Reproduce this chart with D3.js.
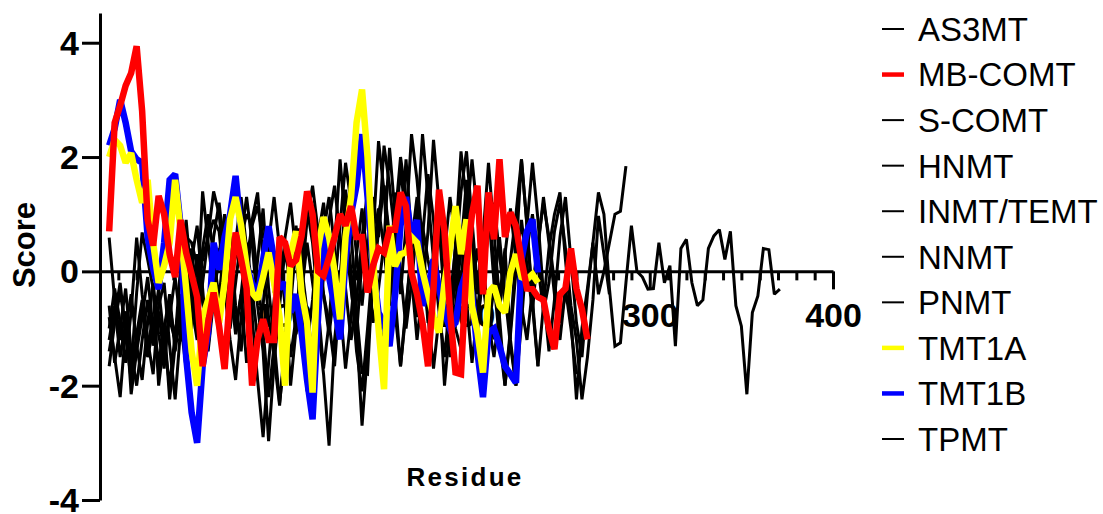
<!DOCTYPE html>
<html>
<head>
<meta charset="utf-8">
<script src="https://cdn.jsdelivr.net/npm/d3@7"></script>
<style>
  html, body { margin: 0; padding: 0; background: #fff; }
  svg { display: block; }
</style>
</head>
<body>
<svg id="chart" width="1103" height="514"></svg>
<script>
// ---------------- DATA ----------------
const seriesNames = ["AS3MT","MB-COMT","S-COMT","HNMT","INMT/TEMT","NNMT","PNMT","TMT1A","TMT1B","TPMT"];
const firstResidue = 5;   // residue of the first value in every series
const residueStep = 3;    // residues between consecutive values

const AS3MT = [
  -1.2,-0.6,-1.5,-0.9,-1.8,-1.1,-0.5,-1.3,-0.8,-1.6,
  -1.0,-0.4,-1.4,-0.7,0.2,-0.6,-1.2,0.4,1.0,0.3,
  -0.5,0.6,-0.2,-1.1,-0.4,-1.6,-0.8,0.2,1.1,-0.3,
  -1.2,-2.3,-1.4,-0.6,0.5,-0.2,0.9,1.5,0.7,-0.4,
  -1.1,-0.3,0.8,1.9,1.2,0.3,-0.6,0.4,1.3,0.6,
  2.2,1.5,0.6,-0.4,0.8,2.4,1.6,0.5,-0.5,0.3,
  1.2,0.4,-0.8,0.2,1.4,2.1,0.9,-0.3,0.6,1.9,
  0.7,-0.5,0.4,-1.2,-2.0,-0.6,0.8,1.9,0.9,-0.4,
  -1.4,-0.5,0.6,1.3,0.2,-0.9,-1.5,-0.4,0.5,1.38,
  1.0,-0.3,-1.31,-1.25,-0.2,0.8,0.0,-0.1,-0.31,-0.3,
  0.5,-0.2,0.1,-1.31,0.4,0.56,-0.2,-0.6,-0.5,0.4,
  0.62,0.73,0.21,0.7,-0.6,-0.96,-2.15,-0.72,-0.43,0.4,
  0.38,-0.4,-0.31
];
const MB_COMT = [
  0.70,2.60,2.90,3.25,3.47,3.94,2.80,0.90,0.45,1.32,
  1.00,0.30,-0.10,0.90,0.33,-0.05,-0.45,-1.66,-0.90,-0.37,
  -0.96,-1.71,-0.37,0.68,0.21,-0.30,-2.00,-1.19,-0.84,-1.20,
  -1.20,0.60,0.50,0.10,0.20,0.62,1.40,1.00,0.00,-0.08,
  0.25,0.60,1.00,0.80,1.14,0.60,0.60,-0.37,0.10,0.40,
  0.33,0.73,0.73,1.38,1.14,-0.02,-0.40,-0.90,-1.66,-0.30,
  1.43,0.70,-0.70,-1.77,-1.80,0.09,1.00,1.50,-0.40,1.38,
  0.56,1.96,0.60,1.03,0.79,0.20,-0.30,-0.31,-0.45,-0.50,
  -1.00,-1.36,-0.40,-0.30,0.40,-0.30,-0.66,-1.19
];
const S_COMT = [
  -1.66,-0.90,-0.37,-0.96,-1.71,-0.37,0.68,0.21,-0.30,-2.00,
  -1.19,-0.84,-1.20,-1.20,0.60,0.50,0.10,0.20,0.62,1.40,
  1.00,0.00,-0.08,0.25,0.60,1.00,0.80,1.14,0.60,0.60,
  -0.37,0.10,0.40,0.33,0.73,0.73,1.38,1.14,-0.02,-0.40,
  -0.90,-1.66,-0.30,1.43,0.70,-0.70,-1.77,-1.80,0.09,1.00,
  1.50,-0.40,1.38,0.56,1.96,0.60,1.03,0.79,0.20,-0.30,
  -0.31,-0.45,-0.50,-1.00,-1.36,-0.40,-0.30,0.40,-0.30,-0.66,
  -1.19
];
const HNMT = [
  -0.8,-1.5,-2.2,-1.0,-0.4,-1.3,-1.9,-0.9,-0.2,-1.1,
  -1.7,-0.6,-1.2,0.1,0.9,-0.2,-0.9,-1.8,-0.6,0.6,
  1.2,0.3,-0.7,0.5,1.3,0.4,-0.8,-1.9,-2.9,-1.6,
  -0.5,0.3,-0.6,-1.5,-0.8,0.2,1.1,0.5,-0.6,-1.7,
  -0.9,0.4,1.96,0.8,-0.2,-1.4,-2.1,-1.0,0.2,1.1,
  0.4,-0.6,0.9,2.0,1.3,0.2,-0.8,0.6,1.7,0.9,
  -0.3,-2.0,-0.9,0.5,2.1,1.2,-0.1,-1.1,0.3,1.0,
  0.2,-0.8,-2.0,-1.0,0.3,1.96,0.8,-0.5,-1.66,-0.6,
  0.4,1.0,1.38,0.2,-0.8,-2.24,-1.0,-0.3,0.5,-0.4,
  0.0,0.5,1.0,1.05,1.84
];
const INMT_TEMT = [
  -1.0,-0.3,-0.9,-1.6,-0.7,0.59,-0.4,-1.2,-1.8,-0.6,
  -0.2,-1.3,-2.24,-1.0,-0.3,0.4,-0.5,1.4,0.5,-0.3,
  -1.1,-0.2,0.7,-0.6,-1.4,-0.3,0.9,1.38,0.2,-0.8,
  -1.5,-2.35,-1.2,-0.1,0.8,-0.4,-1.3,-0.5,0.6,1.2,
  0.3,-0.8,-0.1,1.0,0.0,-1.0,-2.7,-1.4,-0.2,0.7,
  1.5,0.6,-0.4,-1.66,-0.7,0.5,1.3,0.3,-0.9,-0.2,
  0.8,-0.5,-1.5,-0.6,0.4,1.6,0.6,-0.4,0.2,-0.9,
  -1.5,-0.7,0.3,1.1,0.2,-0.6,-1.2,-0.3,0.5,1.2,
  0.6,-0.2,-0.9,-0.4,0.3
];
const NNMT = [
  -1.4,-0.8,-0.2,-1.1,-1.9,-1.3,-0.6,-1.5,-1.0,-0.3,
  -1.2,-2.0,-1.1,-0.4,-0.9,0.2,0.8,-0.3,-1.4,-0.5,
  0.3,1.0,0.1,-1.0,-0.4,0.5,-0.3,-1.2,-0.6,0.5,
  1.3,0.4,-0.5,-2.0,-1.0,0.1,-0.7,-1.6,-0.9,-1.8,
  -3.05,-1.2,-0.3,0.6,-0.3,-1.1,0.2,1.3,0.4,-0.7,
  -1.5,-0.5,0.6,1.8,0.9,-0.1,-1.2,-0.3,0.7,2.3,
  1.2,0.1,-0.9,-0.2,0.6,-0.5,-1.6,-0.7,0.3,1.1,
  -0.2,-1.2,-2.0,-1.1,0.0,0.9,0.1,-0.7,0.4,1.3,
  0.5,-0.4,-1.2,-0.3,-1.0,-1.8
];
const PNMT = [
  0.59,-0.5,-1.2,-0.7,-2.15,-1.4,-0.8,-0.1,-1.0,-1.7,
  -0.9,-2.24,-1.3,-0.6,0.2,-0.4,-1.0,-0.2,0.6,0.9,
  0.7,-0.3,-1.0,-0.2,0.6,1.3,0.5,-0.6,-1.4,-2.97,
  -1.6,-0.6,0.4,-0.3,-1.1,-0.4,0.5,-0.2,-0.9,-0.1,
  0.9,1.5,0.6,-0.3,-1.2,-0.5,0.6,1.4,0.6,2.28,
  1.4,0.5,-0.7,-1.66,-0.6,0.3,1.1,0.3,-0.8,-1.7,
  -0.8,0.3,1.3,0.5,-0.4,0.9,1.96,1.0,-0.2,-1.0,
  -0.3,0.6,-0.4,-1.3,-2.0,-0.9,0.4,1.0,0.1,-0.7,
  -0.2,0.7,1.2,0.4,-0.6,-1.2,-2.24,-1.5,-0.5,0.97,
  0.3,-0.4
];
const TMT1A = [
  2.0,2.3,2.2,1.9,2.07,1.6,1.2,1.6,0.5,-0.2,
  0.1,0.5,1.6,0.7,-0.3,-1.4,-2.0,-0.8,-0.5,-0.2,
  -0.9,-0.2,0.91,1.3,0.8,0.09,-0.37,-0.49,-0.1,0.33,
  -0.2,-0.8,-2.0,0.3,0.7,-0.37,-0.9,-2.12,0.4,0.95,
  0.6,0.0,-0.84,0.6,1.3,2.6,3.18,2.0,0.2,-1.0,
  -2.06,0.8,0.09,0.3,0.33,0.6,0.5,0.0,-0.4,-0.8,
  -1.07,-0.2,0.4,1.14,0.3,0.91,-0.61,-1.07,-1.77,-0.37,
  -0.26,-0.6,-0.72,-0.02,0.3,-0.1,-0.14,-0.05,-0.2
];
const TMT1B = [
  2.2,2.5,3.0,2.6,2.1,1.96,1.9,0.6,0.05,-0.31,
  0.5,1.6,1.7,0.8,-1.5,-2.47,-3.0,-1.66,-1.07,0.5,
  0.03,0.6,1.0,1.67,0.7,0.09,-0.2,-0.45,0.2,0.79,
  0.2,-0.3,-0.2,-0.72,-0.4,-1.07,-1.9,-2.59,-0.8,0.8,
  -0.1,-0.6,-1.19,0.2,1.0,1.5,2.4,1.3,0.1,-0.72,
  -0.9,-1.31,-0.43,0.8,1.3,0.6,0.9,-0.6,-0.3,0.21,
  -0.3,-0.72,-1.0,-0.9,-0.3,0.0,-0.4,-1.42,-2.2,-1.07,
  -1.0,-1.3,-1.66,-1.8,-1.95,0.2,0.7,0.91,-0.02
];
const TPMT = [
  -0.6,-1.6,-1.0,-0.3,-1.4,-2.0,-1.2,-0.5,-1.3,-0.7,
  -1.5,-0.8,-0.1,-0.9,-1.7,-1.0,0.3,-0.5,-1.3,-0.4,
  0.4,-0.3,-1.2,-1.9,-0.8,0.2,0.8,-0.1,-1.0,-2.2,
  -1.3,-0.4,0.6,1.2,0.3,-0.8,-2.1,-1.2,-0.2,0.7,
  1.3,0.4,-0.6,-1.7,-0.8,0.3,1.1,0.2,-0.9,-0.3,
  0.5,2.16,1.0,0.0,-1.0,-0.2,0.8,2.4,1.3,0.2,
  -0.7,-1.5,-0.5,0.4,-0.3,1.2,0.2,-0.9,-0.1,0.7,
  1.2,0.3,-0.6,0.2,1.0,1.96,0.8,-0.6,-1.66
];
const seriesValues = [AS3MT, MB_COMT, S_COMT, HNMT, INMT_TEMT, NNMT, PNMT, TMT1A, TMT1B, TPMT];

const yTicks = [-4, -2, 0, 2, 4];
const xMajorTicks = [100, 200, 300, 400];
const xMinorTicks = d3.range(10, 400, 10).filter(v => v % 100 !== 0);

// ---------------- STYLE ----------------
const seriesColor = {"MB-COMT": "#ff0000", "TMT1A": "#ffff00", "TMT1B": "#0000ff"};
const colorOf = n => seriesColor[n] || "#000000";
const widthOf = n => seriesColor[n] ? 6.5 : 3;
const FONT = "'Liberation Sans', Arial, sans-serif";
const plainNumber = d => String(d);   // ASCII hyphen for negatives

// ---------------- CHART ----------------
const svg = d3.select("#chart");
const x = d3.scaleLinear().domain([0, 400]).range([100, 833]);
const y = d3.scaleLinear().domain([-4, 4.52]).range([500, 13]);

// Y axis
const yAxis = svg.append("g")
  .attr("transform", `translate(${x(0)},0)`)
  .call(d3.axisLeft(y).tickValues(yTicks).tickFormat(plainNumber)
        .tickSize(18).tickSizeOuter(0).tickPadding(3));
yAxis.select(".domain").attr("stroke", "#000").attr("stroke-width", 3);
yAxis.selectAll(".tick line").attr("stroke", "#000").attr("stroke-width", 3);
yAxis.selectAll(".tick text")
  .attr("font-family", FONT)
  .attr("font-weight", "bold").attr("font-size", 34).attr("fill", "#000")
  .attr("dy", "0.34em");

// X axis (minor + major)
const x0 = y(0);
const xMinor = svg.append("g")
  .attr("transform", `translate(0,${x0})`)
  .call(d3.axisBottom(x).tickValues(xMinorTicks).tickSize(9).tickSizeOuter(0).tickFormat(""));
xMinor.select(".domain").remove();
xMinor.selectAll(".tick line").attr("stroke", "#000").attr("stroke-width", 3);

const xMajor = svg.append("g")
  .attr("transform", `translate(0,${x0})`)
  .call(d3.axisBottom(x).tickValues(xMajorTicks).tickFormat(plainNumber)
        .tickSize(18).tickSizeOuter(0).tickPadding(14));
xMajor.select(".domain").attr("stroke", "#000").attr("stroke-width", 3);
xMajor.selectAll(".tick line").attr("stroke", "#000").attr("stroke-width", 3);
xMajor.selectAll(".tick text")
  .attr("font-family", FONT)
  .attr("font-weight", "bold").attr("font-size", 34).attr("fill", "#000");

// Axis titles
svg.append("text")
  .attr("transform", `translate(35,${245}) rotate(-90)`)
  .attr("text-anchor", "middle")
  .attr("font-family", FONT)
  .attr("font-weight", "bold").attr("font-size", 31)
  .text("Score");

svg.append("text")
  .attr("x", 465).attr("y", 486)
  .attr("text-anchor", "middle")
  .attr("font-family", FONT)
  .attr("font-weight", "bold").attr("font-size", 26)
  .attr("letter-spacing", 2.3)
  .text("Residue");

// Lines
const line = d3.line()
  .x((d, i) => x(firstResidue + i * residueStep))
  .y(d => y(d));

const drawOrder = ["AS3MT","S-COMT","HNMT","INMT/TEMT","NNMT","PNMT","TPMT","TMT1B","TMT1A","MB-COMT"];
const lines = svg.append("g").attr("class", "lines");
drawOrder.forEach(name => {
  const i = seriesNames.indexOf(name);
  lines.append("path")
    .datum(seriesValues[i])
    .attr("fill", "none")
    .attr("stroke", colorOf(name))
    .attr("stroke-width", widthOf(name))
    .attr("stroke-linejoin", "miter")
    .attr("stroke-miterlimit", 2)
    .attr("d", line);
});

// Legend
const legend = svg.append("g");
const rowY = d3.scalePoint().domain(seriesNames).range([29, 439]);
seriesNames.forEach(name => {
  const cy = rowY(name);
  legend.append("line")
    .attr("x1", 882).attr("x2", 904).attr("y1", cy).attr("y2", cy)
    .attr("stroke", colorOf(name))
    .attr("stroke-width", seriesColor[name] ? 4.5 : 2);
  legend.append("text")
    .attr("x", 918).attr("y", cy).attr("dy", "0.36em")
    .attr("font-family", FONT)
    .attr("font-size", 33).attr("fill", "#000")
    .text(name);
});
</script>
</body>
</html>
